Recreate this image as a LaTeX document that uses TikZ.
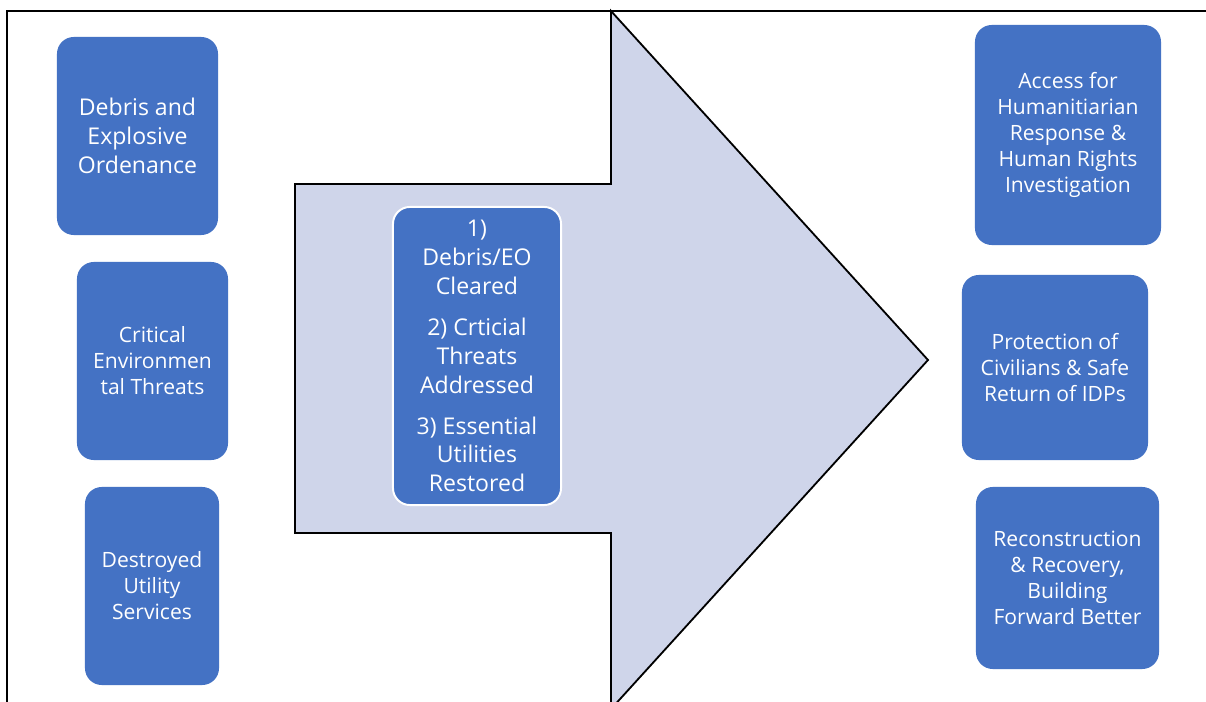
\documentclass[tikz,border=0pt]{standalone}
\usepackage{fontspec}
\setmainfont{Open Sans}
\usetikzlibrary{positioning}
\definecolor{boxblue}{HTML}{4472C4}
\definecolor{arrowfill}{HTML}{CFD5EA}
\tikzstyle{bigbox} = [rectangle, rounded corners=12pt, fill=boxblue, text=white, align=center, inner sep=0pt, font=\fontsize{16.4}{20.6}\selectfont]
\tikzstyle{smallbox} = [rectangle, rounded corners=12pt, fill=boxblue, text=white, align=center, inner sep=0pt, font=\fontsize{15}{18.5}\selectfont]
\tikzstyle{frame} = [draw=black, line width=1.8pt]

\begin{document}
\begin{tikzpicture}[x=0.025cm, y=-0.025cm]

\clip (0,0) rectangle (1206,702);
\fill[white] (0,0) rectangle (1206,702);
\draw [frame] (7,11) rectangle (1230,730);

% big arrow
\draw [fill=arrowfill, line width=1.3pt] (295,184) -- (611,184) -- (611,11) -- (928,360) -- (611,709) -- (611,533) -- (295,533) -- cycle;

\node (debris) [bigbox, minimum width=4.025cm, minimum height=4.95cm] at (137.5,136) {Debris and\\Explosive\\Ordenance};
\node (threats) [smallbox, minimum width=3.775cm, minimum height=4.95cm] at (152.5,361) {Critical\\Environmen\\tal Threats};
\node (utility) [smallbox, minimum width=3.35cm, minimum height=4.95cm] at (152,586) {Destroyed\\Utility\\Services};

\node (steps) [bigbox, draw=white, line width=1.4pt, minimum width=4.2cm, minimum height=7.45cm] at (477,356) {1)\\Debris/EO\\Cleared\\[8.5pt]2) Crticial\\Threats\\Addressed\\[8.5pt]3) Essential\\Utilities\\Restored};

\node (access) [smallbox, minimum width=4.65cm, minimum height=5.5cm] at (1068,135) {Access for\\Humanitiarian\\Response \&\\Human Rights\\Investigation};
\node (protect) [smallbox, minimum width=4.65cm, minimum height=4.625cm] at (1055,367.5) {Protection of\\Civilians \& Safe\\Return of IDPs};
\node (recon) [smallbox, minimum width=4.575cm, minimum height=4.55cm] at (1067.5,578) {Reconstruction\\\& Recovery,\\Building\\Forward Better};

\end{tikzpicture}
\end{document}
